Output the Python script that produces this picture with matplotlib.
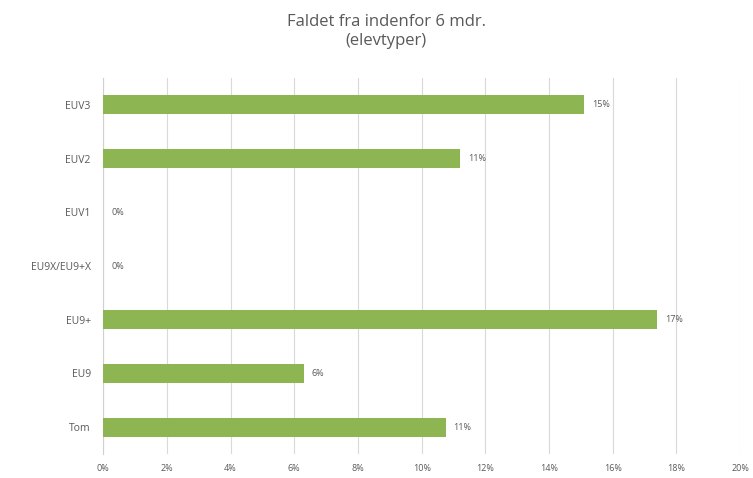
import numpy as np
from matplotlib import pyplot as plt

# data (top to bottom)
categories = ["EUV3", "EUV2", "EUV1", "EU9X/EU9+X", "EU9+", "EU9", "Tom"]
values = [15.1, 11.2, 0.0, 0.0, 17.4, 6.3, 10.75]
labels = ["15%", "11%", "0%", "0%", "17%", "6%", "11%"]
ticks = [0, 2, 4, 6, 8, 10, 12, 14, 16, 18, 20]

grey = '#595959'
green = '#8db552'

plt.rcParams['font.family'] = ['Open Sans', 'DejaVu Sans']

fig = plt.figure(figsize=(7.53, 4.78), dpi=100)
ax = fig.add_axes([0.137, 0.050, 0.846, 0.787])

y = np.arange(len(categories))[::-1]
ax.barh(y, values, height=0.36, color=green, zorder=3)

for yi, v, lab in zip(y, values, labels):
    ax.text(v + 0.25, yi, lab, va='center', ha='left', fontsize=6.5, color=grey)

ax.set_xlim(0, 20)
ax.set_ylim(-0.5, len(categories) - 0.5)
ax.set_yticks(y)
ax.set_yticklabels(categories, fontsize=7.5, color=grey)
ax.set_xticks(ticks)
ax.set_xticklabels([f"{t}%" for t in ticks], fontsize=6.5, color=grey)
ax.tick_params(axis='x', length=0, pad=7)
ax.tick_params(axis='y', length=0, pad=9)

ax.grid(axis='x', color='#d9d9d9', linewidth=0.8, zorder=0)
for s in ['top', 'right', 'bottom']:
    ax.spines[s].set_visible(False)
ax.spines['left'].set_color('#d0d0d0')

fig.text(0.513, 0.934, "Faldet fra indenfor 6 mdr.\n(elevtyper)", ha='center', va='center',
         fontsize=12, color=grey, linespacing=1.3)

plt.savefig("out.png", dpi=100)
